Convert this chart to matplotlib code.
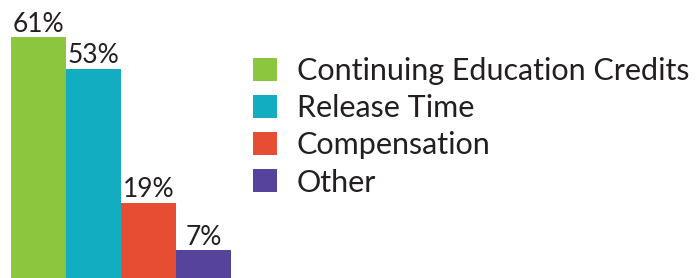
import matplotlib.pyplot as plt
from matplotlib.patches import Patch

categories = ["Continuing Education Credits", "Release Time", "Compensation", "Other"]
values = [61, 53, 19, 7]
colors = ["#8cc63f", "#12adc1", "#e64d33", "#56449a"]

plt.rcParams['font.family'] = ['Lato', 'DejaVu Sans']
text_color = "#231f20"

fig = plt.figure(figsize=(6.99, 2.78), dpi=100)
ax = fig.add_axes([11 / 699, 0, 220 / 699, 1])

x = range(len(values))
ax.bar(x, values, width=1.0, color=colors)
for xi, v in zip(x, values):
    ax.text(xi, v + 1.4, f"{v}%", ha='center', va='baseline',
            fontsize=19, color=text_color)

ax.set_xlim(-0.5, 3.5)
ax.set_ylim(0, 70.4)
ax.axis('off')

handles = [Patch(facecolor=c, edgecolor='none') for c in colors]
leg = fig.legend(handles, categories, loc='upper left',
                 bbox_to_anchor=(253 / 699, 1 - 57 / 278), frameon=False,
                 fontsize=22, handlelength=0.78, handleheight=0.78,
                 handletextpad=0.65, labelspacing=0.3, borderpad=0,
                 borderaxespad=0)
for t in leg.get_texts():
    t.set_color(text_color)

fig.savefig("out.png", dpi=100)
